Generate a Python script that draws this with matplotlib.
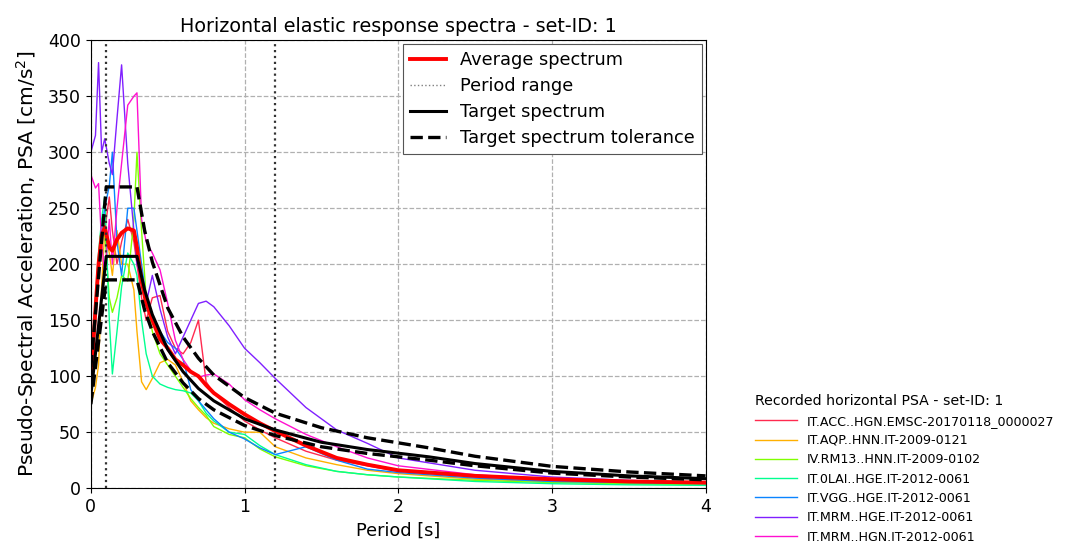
import matplotlib
matplotlib.use("Agg")
import matplotlib.pyplot as plt
from matplotlib.lines import Line2D

# ---------------- data ----------------
periods = [0.0, 0.03, 0.05, 0.07, 0.09, 0.12, 0.14, 0.17, 0.2, 0.24, 0.28, 0.3, 0.33, 0.36,
           0.4, 0.45, 0.5, 0.55, 0.6, 0.65, 0.7, 0.75, 0.8, 0.9, 1.0, 1.1, 1.2, 1.4, 1.6,
           1.8, 2.0, 2.5, 3.0, 3.5, 4.0]

rec_names = ["IT.ACC..HGN.EMSC-20170118_0000027",
             "IT.AQP..HNN.IT-2009-0121",
             "IV.RM13..HNN.IT-2009-0102",
             "IT.0LAI..HGE.IT-2012-0061",
             "IT.VGG..HGE.IT-2012-0061",
             "IT.MRM..HGE.IT-2012-0061",
             "IT.MRM..HGN.IT-2012-0061"]
rec_colors = ["#ff2a4f", "#ffb000", "#80ff00", "#00ff90", "#0a84ff", "#8020ff", "#ff10d0"]

psa_acc = [100, 150, 200, 240, 230, 260, 230, 200, 220, 240, 220, 200, 170, 150,
           170, 172, 140, 125, 120, 130, 150, 95, 85, 72, 60, 52, 45, 33, 25,
           20, 15, 10, 7, 5, 4]
psa_aqp = [75, 90, 110, 180, 230, 210, 190, 230, 200, 200, 177, 140, 95, 88,
           98, 112, 115, 110, 95, 78, 70, 63, 58, 53, 50, 50, 37, 27, 21,
           16, 13, 8, 6, 4, 3.5]
psa_rm13 = [90, 150, 200, 240, 230, 170, 157, 170, 190, 185, 240, 300, 230, 170,
            140, 120, 110, 100, 90, 80, 72, 65, 55, 48, 45, 35, 28, 20, 15,
            12, 10, 7, 5, 4, 3]
psa_0lai = [110, 170, 210, 240, 260, 150, 102, 140, 180, 210, 200, 190, 150, 120,
            100, 93, 90, 88, 87, 85, 78, 67, 60, 50, 48, 38, 30, 21, 15,
            12, 10, 6, 4, 3, 2.5]
psa_vgg = [100, 160, 190, 230, 250, 270, 300, 220, 190, 250, 250, 230, 200, 170,
           150, 140, 130, 125, 115, 88, 78, 70, 62, 50, 44, 36, 30, 37, 25,
           17, 14, 9, 6, 5, 4]
psa_mrm_e = [300, 315, 380, 300, 312, 290, 280, 330, 378, 290, 230, 200, 185, 165,
             190, 160, 135, 120, 135, 150, 165, 167, 162, 145, 125, 112, 98, 72, 52,
             40, 27, 16, 10, 7, 5]
psa_mrm_n = [280, 268, 272, 220, 190, 240, 200, 250, 290, 342, 350, 353, 240, 220,
             210, 195, 165, 132, 115, 105, 99, 101, 102, 93, 79, 70, 62, 48, 37,
             27, 20, 12, 8, 6, 5]
psa_avg = [95, 160, 200, 225, 233, 215, 212, 222, 228, 232, 230, 215, 185, 165,
           150, 133, 125, 115, 110, 104, 100, 92, 85, 75, 66, 58, 51, 38, 27,
           21, 16, 11, 8, 6, 5]

target_periods = [0, 0.1, 0.3, 0.35, 0.4, 0.5, 0.6, 0.7, 0.8, 1.0, 1.2, 1.5, 1.8,
                  2.2, 2.5, 3.0, 3.5, 4.0]
target = [83, 207, 207, 177, 155, 124, 104, 89, 78, 62, 52, 41, 34.5, 28, 22, 15, 11, 8.5]
target_upper = [108, 269, 269, 230, 202, 161, 135, 116, 101, 81, 67, 54, 45, 36, 28.5,
                19.5, 14.5, 11]
target_lower = [75, 186, 186, 159, 140, 112, 94, 80, 70, 56, 47, 37, 31, 25, 20, 13.5,
                10, 7.5]

period_range = [0.1, 1.2]

# ---------------- figure ----------------
fig = plt.figure(figsize=(10.69, 5.51), dpi=100)
ax = fig.add_axes([0.085, 0.114, 0.575, 0.813])

records = [psa_acc, psa_aqp, psa_rm13, psa_0lai, psa_vgg, psa_mrm_e, psa_mrm_n]
rec_handles = []
for name, col, vals in zip(rec_names, rec_colors, records):
    h, = ax.plot(periods, vals, color=col, lw=1.0, label=name)
    rec_handles.append(h)

h_avg, = ax.plot(periods, psa_avg, color="red", lw=2.8, label="Average spectrum")
for p in period_range:
    ax.axvline(p, color="#333333", ls=":", lw=1.6)
h_pr = Line2D([], [], color="gray", ls=":", lw=1.0, label="Period range")
h_t, = ax.plot(target_periods, target, color="black", lw=2.2, label="Target spectrum")
h_tu, = ax.plot(target_periods, target_upper, color="black", lw=2.4, ls="--",
                label="Target spectrum tolerance")
ax.plot(target_periods, target_lower, color="black", lw=2.4, ls="--")

ax.set_xlim(0, 4)
ax.set_ylim(0, 400)
ax.set_xticks([0, 1, 2, 3, 4])
ax.set_yticks(range(0, 401, 50))
ax.tick_params(labelsize=12.5)
ax.grid(True, ls="--", color="#b0b0b0", lw=0.9)
ax.set_xlabel("Period [s]", fontsize=12.8)
ax.set_ylabel("Pseudo-Spectral Acceleration, PSA [cm/s$^2$]", fontsize=14.5, labelpad=6)
ax.set_title("Horizontal elastic response spectra - set-ID: 1", fontsize=13.8)

leg1 = ax.legend(handles=[h_avg, h_pr, h_t, h_tu], loc="upper right", fontsize=12.8,
                 fancybox=False, edgecolor="#555555", framealpha=1.0,
                 borderaxespad=0.2, labelspacing=0.45)
leg1.get_frame().set_linewidth(0.8)

fig.legend(handles=rec_handles, loc="upper left", bbox_to_anchor=(0.696, 0.305),
           fontsize=9.1, title="Recorded horizontal PSA - set-ID: 1", title_fontsize=10.2,
           frameon=False, alignment="left", handlelength=3.3, handletextpad=0.8,
           labelspacing=0.5)

fig.savefig("out.png", dpi=100)
